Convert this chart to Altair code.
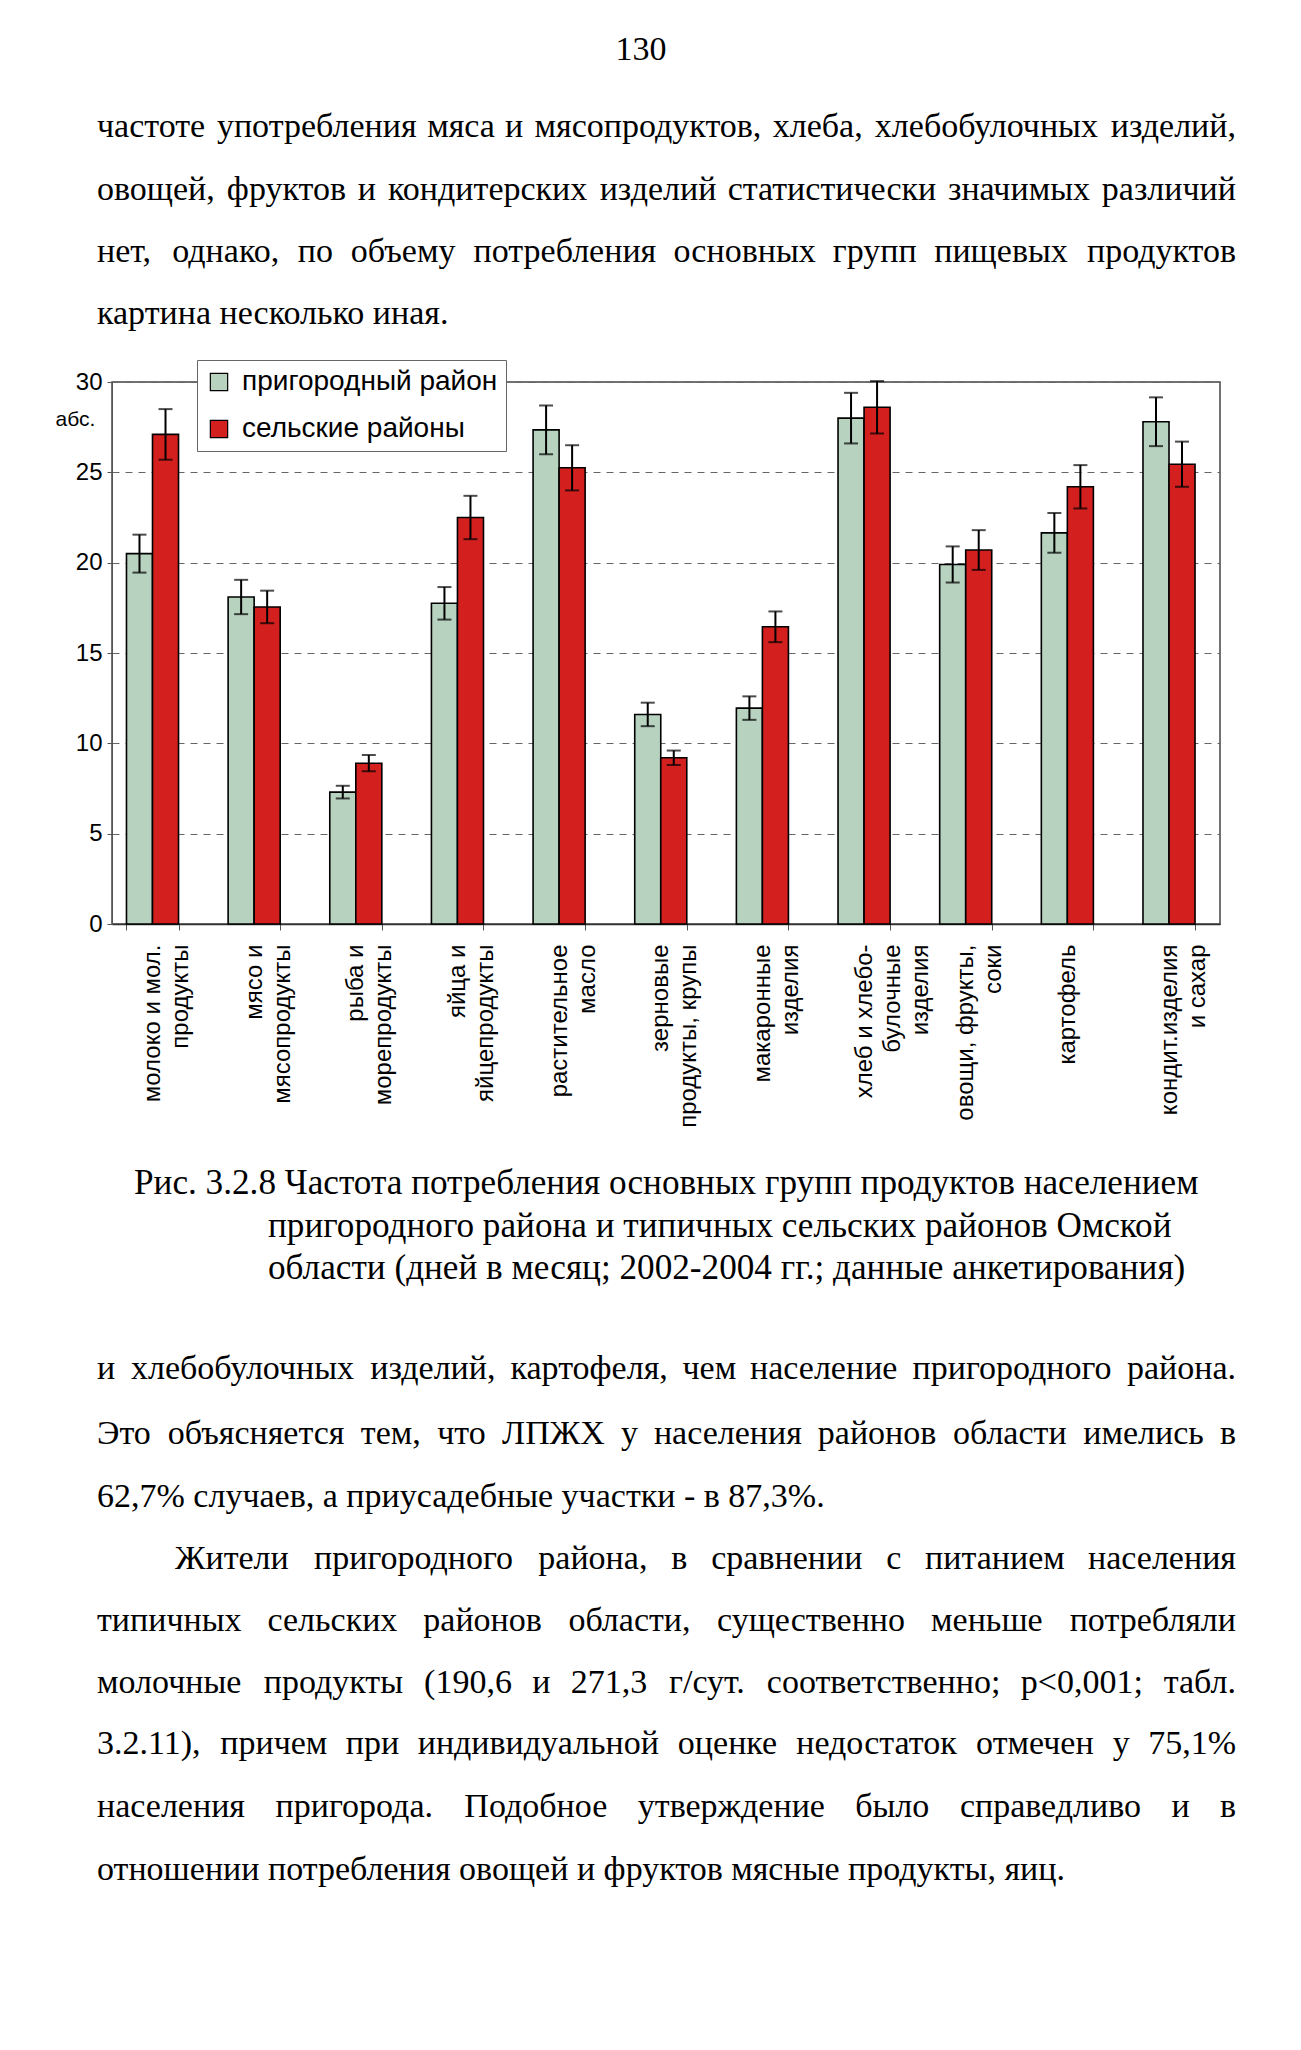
import altair as alt
import pandas as pd

# ---------------- chart data ----------------
categories = [
    "молоко и мол.|продукты",
    "мясо и|мясопродукты",
    "рыба и|морепродукты",
    "яйца и|яйцепродукты",
    "растительное|масло",
    "зерновые|продукты, крупы",
    "макаронные|изделия",
    "хлеб и хлебо-|булочные|изделия",
    "овощи, фрукты,|соки",
    "картофель",
    "кондит.изделия|и сахар",
]
series = ["пригородный район", "сельские районы"]
suburban = [20.5, 18.1, 7.3, 17.75, 27.35, 11.6, 11.95, 28.0, 19.9, 21.65, 27.8]
suburban_err = [1.05, 0.95, 0.35, 0.9, 1.35, 0.65, 0.65, 1.4, 1.0, 1.1, 1.35]
rural = [27.1, 17.55, 8.9, 22.5, 25.25, 9.2, 16.45, 28.6, 20.7, 24.2, 25.45]
rural_err = [1.4, 0.9, 0.45, 1.2, 1.25, 0.4, 0.85, 1.45, 1.1, 1.2, 1.25]
y_ticks = [0, 5, 10, 15, 20, 25, 30]
colors = ["#b8d2c0", "#d3201f"]

# ---------------- page text ----------------
page_number = "130"
para1 = [
    "частоте употребления мяса и мясопродуктов, хлеба, хлебобулочных изделий,",
    "овощей, фруктов и кондитерских изделий статистически значимых различий",
    "нет, однако, по объему потребления основных групп пищевых продуктов",
    "картина несколько иная.",
]
caption = [
    "Рис. 3.2.8 Частота потребления основных групп продуктов населением",
    "пригородного района и типичных сельских районов Омской",
    "области (дней в месяц; 2002-2004 гг.; данные анкетирования)",
]
para2 = [
    "и хлебобулочных изделий, картофеля, чем население пригородного района.",
    "Это объясняется тем, что ЛПЖХ у населения районов области  имелись в",
    "62,7% случаев, а приусадебные участки - в 87,3%.",
]
para3 = [
    "Жители пригородного района, в сравнении с питанием населения",
    "типичных сельских районов области, существенно меньше потребляли",
    "молочные продукты (190,6 и 271,3 г/сут. соответственно; p<0,001; табл.",
    "3.2.11), причем при индивидуальной оценке недостаток отмечен у 75,1%",
    "населения пригорода. Подобное утверждение было справедливо и в",
    "отношении потребления овощей и фруктов мясные продукты, яиц.",
]

# ---------------- layout ----------------
PLOT_X0, PLOT_Y0 = 112, 382      # page position of plot origin
PLOT_W, PLOT_H = 1108, 542
FS = 34
CAP_FS = 35.2
LEFT, RIGHT, INDENT = 97, 1236, 175

# approximate Times/Liberation Serif advance widths (em)
CW = {}
def _set(chars, w):
    for ch in chars:
        CW[ch] = w
for ch, w in zip("абвгдеёжзийклмнопрстуфхцчшщъыьэюя",
                 [.444, .509, .472, .41, .509, .444, .444, .691, .395, .535, .535, .486, .499, .633,
                  .535, .5, .535, .5, .444, .437, .5, .648, .5, .535, .503, .77, .77, .517, .672, .456,
                  .429, .747, .46]):
    CW[ch] = w
for ch, w in zip("РЧЭЛПЖХОЖ", [.556, .668, .661, .678, .722, .896, .722, .722, .896]):
    CW[ch] = w
_set("0123456789p", .5)
_set(" ,.", .25)
_set("()-", .333)
_set(";:/", .278)
CW["%"] = .833
CW["<"] = .564


def tw(s):
    return sum(CW.get(ch, .5) for ch in s) * FS


recs = {"left": [], "center": [], "right": [], "caption": []}


def put(text, x, y, align):
    recs[align].append({"text": text, "px": x - PLOT_X0, "py": y - PLOT_Y0})


def justified(line, y, left=LEFT):
    words = line.split()
    widths = [tw(w) for w in words]
    gap = (RIGHT - left - sum(widths)) / (len(words) - 1)
    x = left
    for i, (w, wd) in enumerate(zip(words, widths)):
        if i == 0:
            put(w, left, y, "left")
        elif i == len(words) - 1:
            put(w, RIGHT, y, "right")
        else:
            put(w, x + wd / 2, y, "center")
        x += wd + gap


put(page_number, 641, 50, "center")
p1_y = [127, 190, 252, 314]
for i, line in enumerate(para1):
    if i < 3:
        justified(line, p1_y[i])
    else:
        put(line, LEFT, p1_y[i], "left")
cap_pos = [(134, 1183), (268, 1226), (268, 1268)]
for line, (x, y) in zip(caption, cap_pos):
    put(line, x, y, "caption")
p2_y = [1369, 1434, 1497]
for i, line in enumerate(para2):
    if i < 2:
        justified(line, p2_y[i])
    else:
        put(line, LEFT, p2_y[i], "left")
p3_y = [1559, 1621, 1683, 1744, 1807, 1870]
for i, line in enumerate(para3):
    if i == 0:
        justified(line, p3_y[i], left=INDENT)
    elif i < 5:
        justified(line, p3_y[i])
    else:
        put(line, LEFT, p3_y[i], "left")

# ---------------- build table ----------------
rows = []
for i, c in enumerate(categories):
    rows.append(dict(cat=c, series=series[0], value=suburban[i],
                     lo=suburban[i] - suburban_err[i], hi=suburban[i] + suburban_err[i]))
    rows.append(dict(cat=c, series=series[1], value=rural[i],
                     lo=rural[i] - rural_err[i], hi=rural[i] + rural_err[i]))
df = pd.DataFrame(rows)

NARROW = "Liberation Sans Narrow, Arial Narrow, Liberation Sans"

x_enc = alt.X(
    "cat:N", sort=categories,
    scale=alt.Scale(paddingInner=0.488, paddingOuter=0.194, align=0.367),
    axis=alt.Axis(title=None, labelExpr="split(datum.label, '|')", labelAngle=270,
                  labelAlign="right", labelBaseline="middle", labelPadding=14,
                  labelFontSize=24, labelFont="Liberation Sans", labelLineHeight=28,
                  labelLimit=400, labelColor="black", tickBand="extent", tickSize=6,
                  tickColor="#555", domainColor="#333", domainWidth=1.5, grid=False),
)
xo_enc = alt.XOffset("series:N", sort=series, scale=alt.Scale(paddingInner=0, paddingOuter=0))


def y_enc(field):
    return alt.Y(
        f"{field}:Q",
        scale=alt.Scale(domain=[0, 30], nice=False, zero=True),
        axis=alt.Axis(title="абс.", titleAngle=0, titleX=-37, titleY=37, titleAlign="center",
                      titleBaseline="middle", titleFontSize=21, titleFontWeight="normal",
                      titleFont=NARROW, titleColor="black",
                      values=y_ticks, labelFont=NARROW, labelFontSize=24, labelColor="black",
                      labelPadding=5, labelFlush=False, tickSize=5, tickColor="#555",
                      domainColor="#555", grid=True, gridDash=[7, 6], gridColor="#666",
                      gridWidth=1),
    )


bars = alt.Chart(df).mark_bar(stroke="black", strokeWidth=1.6).encode(
    x=x_enc, xOffset=xo_enc, y=y_enc("value"),
    color=alt.Color("series:N", sort=series,
                    scale=alt.Scale(domain=series, range=colors),
                    legend=alt.Legend(title=None, orient="none", legendX=85, legendY=-22,
                                      direction="vertical", fillColor="white",
                                      strokeColor="#666", padding=8, rowPadding=19,
                                      symbolType="square", symbolSize=300,
                                      symbolStrokeColor="black", symbolStrokeWidth=1.2,
                                      symbolOpacity=1, labelFont="Liberation Sans",
                                      labelFontSize=28, labelColor="black", labelOffset=9,
                                      labelLimit=400)),
)
rules = alt.Chart(df).mark_rule(color="black", strokeWidth=2).encode(
    x=x_enc, xOffset=xo_enc, y=y_enc("lo"), y2="hi:Q")
caps_lo = alt.Chart(df).mark_tick(color="black", thickness=2, size=14).encode(
    x=x_enc, xOffset=xo_enc, y=y_enc("lo"))
caps_hi = alt.Chart(df).mark_tick(color="black", thickness=2, size=14).encode(
    x=x_enc, xOffset=xo_enc, y=y_enc("hi"))

plot = alt.layer(bars, rules, caps_lo, caps_hi)


def text_layer(key, align, size):
    return alt.Chart(pd.DataFrame(recs[key])).mark_text(
        align=align, baseline="middle", font="Liberation Serif", fontSize=size, color="black"
    ).encode(
        x=alt.X("px:Q", scale=None, axis=None),
        y=alt.Y("py:Q", scale=None, axis=None),
        text="text:N",
    )


chart = alt.layer(
    plot,
    text_layer("left", "left", FS),
    text_layer("center", "center", FS),
    text_layer("right", "right", FS),
    text_layer("caption", "left", CAP_FS),
).resolve_scale(x="independent", y="independent").properties(
    width=PLOT_W, height=PLOT_H,
    padding={"left": PLOT_X0 - 8, "top": PLOT_Y0 - 8, "right": 1285 - (PLOT_X0 - 8) - PLOT_W,
             "bottom": 1100},
    autosize=alt.AutoSizeParams(type="none"),
    background="white",
).configure_view(stroke="#444", strokeWidth=1.5)

chart.save("out.html", embed_options={"renderer": "svg", "actions": False})
